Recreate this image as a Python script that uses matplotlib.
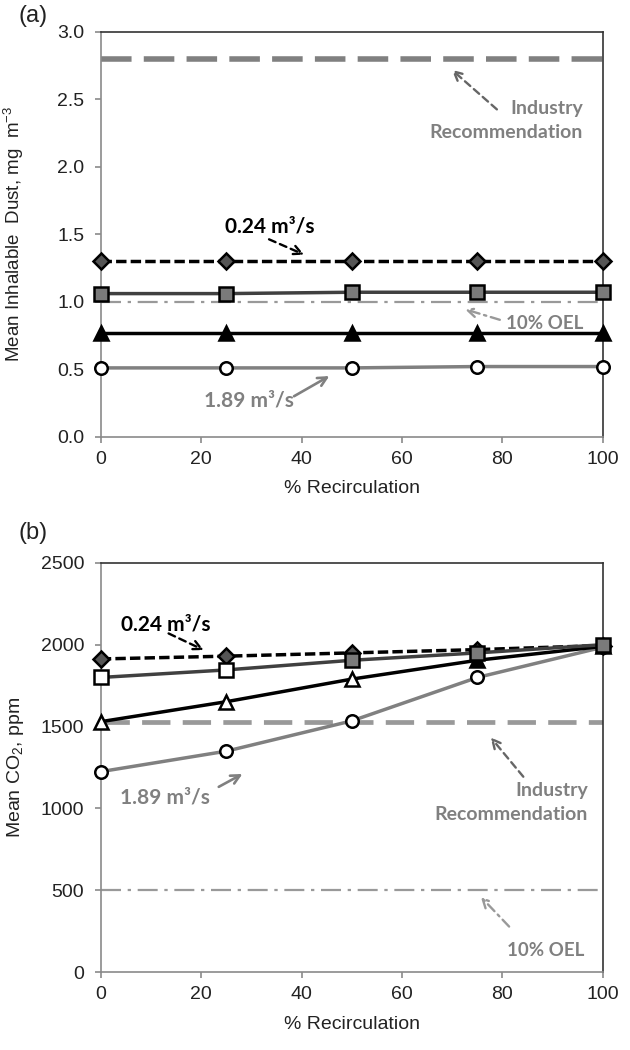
import numpy as np
import matplotlib
matplotlib.use('Agg')
import matplotlib.pyplot as plt

plt.rcParams['font.family'] = ['Liberation Sans', 'DejaVu Sans']
plt.rcParams['mathtext.fontset'] = 'custom'
plt.rcParams['mathtext.rm'] = 'Liberation Sans'
plt.rcParams['mathtext.it'] = 'Liberation Sans'

# % recirculation
recirc = [0, 25, 50, 75, 100]

# (a) mean inhalable dust, mg m-3
dust_024 = [1.30, 1.30, 1.30, 1.30, 1.30]
dust_sq = [1.06, 1.06, 1.07, 1.07, 1.07]
dust_tri = [0.77, 0.77, 0.77, 0.77, 0.77]
dust_189 = [0.51, 0.51, 0.51, 0.52, 0.52]
dust_industry = 2.8
dust_oel = 1.0

# (b) mean CO2, ppm
co2_024 = [1913, 1930, 1950, 1970, 1995]
co2_sq = [1800, 1846, 1905, 1950, 2000]
co2_tri = [1530, 1652, 1790, 1905, 1990]
co2_189 = [1225, 1350, 1535, 1800, 1985]
co2_industry = 1530
co2_oel = 500

# filled (True) / open (False) markers in (b)
co2_sq_fill = [False, False, True, True, True]
co2_tri_fill = [False, False, False, True, True]

ANN = ['Lato', 'DejaVu Sans']
GRAY = '#808080'
TXT = '#222222'

fig = plt.figure(figsize=(6.3, 10.5), dpi=100)
ax1 = fig.add_axes([0.160, 0.584, 0.797, 0.386])
ax2 = fig.add_axes([0.160, 0.074, 0.797, 0.390])


def style_axes(ax):
    ax.set_xlim(0, 100)
    ax.set_xticks(range(0, 101, 20))
    for s in ['left', 'bottom']:
        ax.spines[s].set_color('#8a8a8a')
        ax.spines[s].set_linewidth(1.2)
    for s in ['top', 'right']:
        ax.spines[s].set_color('#333333')
        ax.spines[s].set_linewidth(1.2)
    ax.tick_params(axis='both', direction='out', color='#8a8a8a', length=4,
                   width=1.2, labelsize=14, labelcolor=TXT)
    ax.tick_params(axis='y', pad=8)
    ax.tick_params(axis='x', pad=6)
    ax.set_xlabel('% Recirculation', fontsize=14, color=TXT, labelpad=9)
    ax.yaxis.set_label_coords(-0.148, 0.5)


def series(ax, y, ls, lc, marker, face, ms, zo):
    ax.plot(recirc, y, ls=ls, color=lc, lw=2.5, zorder=zo, clip_on=False)
    if isinstance(face, str):
        face = [face] * len(y)
    for xi, yi, fc in zip(recirc, y, face):
        ax.plot(xi, yi, marker=marker, ms=ms, mfc=fc, mec='black', mew=1.8,
                ls='none', zorder=zo + 0.5, clip_on=False)


def label(ax, x, y, s, color, size=14, ha='center'):
    ax.text(x, y, s, ha=ha, va='center', fontsize=size, fontweight='bold',
            color=color, family=ANN)


def arrow(ax, head, tail, color, ls='-', lw=1.7):
    ax.annotate('', xy=head, xytext=tail,
                arrowprops=dict(arrowstyle='->', color=color, lw=lw,
                                linestyle=ls, mutation_scale=16))


# ---------- (a) ----------
style_axes(ax1)
ax1.set_ylim(0, 3.0)
ax1.set_yticks(np.arange(0, 3.01, 0.5))
ax1.set_yticklabels([f'{v:.1f}' for v in np.arange(0, 3.01, 0.5)])
ax1.set_ylabel('Mean Inhalable  Dust, mg  m$^{-3}$', fontsize=13.5, color=TXT)

ax1.axhline(dust_industry, color=GRAY, lw=4, dashes=(5.5, 2.2), zorder=2)
ax1.axhline(dust_oel, color='#999999', lw=1.6, dashes=(9, 3, 1.5, 3), zorder=2)
series(ax1, dust_024, (0, (3, 1.2)), 'black', 'D', '#555555', 8.5, 5)
series(ax1, dust_sq, '-', '#404040', 's', '#7a7a7a', 10, 4)
series(ax1, dust_tri, '-', 'black', '^', 'black', 10, 3)
series(ax1, dust_189, '-', GRAY, 'o', 'white', 9, 3)

label(ax1, 96, 2.43, 'Industry', GRAY, ha='right')
label(ax1, 96, 2.25, 'Recommendation', GRAY, ha='right')
arrow(ax1, (69.5, 2.73), (79.3, 2.41), '#666666', ls=(0, (3, 2)))

label(ax1, 33.7, 1.56, '0.24 m³/s', 'black', size=15)
arrow(ax1, (41, 1.34), (33, 1.47), 'black', ls=(0, (3, 2)))

label(ax1, 88.5, 0.84, '10% OEL', GRAY, size=13.5)
arrow(ax1, (72, 0.95), (80, 0.86), '#999999', ls=(0, (4, 2, 1, 2)))

label(ax1, 29.5, 0.27, '1.89 m³/s', GRAY, size=15)
arrow(ax1, (46, 0.46), (38, 0.29), GRAY, lw=1.9)

fig.text(0.030, 0.985, '(a)', fontsize=17, ha='left', va='center', color=TXT)

# ---------- (b) ----------
style_axes(ax2)
ax2.set_ylim(0, 2500)
ax2.set_yticks(range(0, 2501, 500))
ax2.set_ylabel('Mean CO$_2$, ppm', fontsize=14, color=TXT)

ax2.axhline(co2_industry, color='#999999', lw=3.4, dashes=(6, 2.6), zorder=2)
ax2.axhline(co2_oel, color='#999999', lw=1.6, dashes=(9, 3, 1.5, 3), zorder=2)
series(ax2, co2_024, (0, (3, 1.2)), 'black', 'D', '#555555', 8.5, 3)
series(ax2, co2_sq, '-', '#404040', 's',
       ['#7a7a7a' if f else 'white' for f in co2_sq_fill], 10, 5)
series(ax2, co2_tri, '-', 'black', '^',
       ['black' if f else 'white' for f in co2_tri_fill], 10, 4)
series(ax2, co2_189, '-', GRAY, 'o', 'white', 9, 3)

label(ax2, 13, 2126, '0.24 m³/s', 'black', size=15)
arrow(ax2, (21, 1960), (13, 2076), 'black', ls=(0, (3, 2)))

label(ax2, 12.7, 1067, '1.89 m³/s', GRAY, size=15)
arrow(ax2, (28.7, 1219), (23, 1124), GRAY, lw=1.9)

label(ax2, 97, 1108, 'Industry', GRAY, ha='right')
label(ax2, 97, 962, 'Recommendation', GRAY, ha='right')
arrow(ax2, (77.3, 1447), (84.5, 1181), '#666666', ls=(0, (3, 2)))

label(ax2, 88.6, 134, '10% OEL', GRAY, size=13.5)
arrow(ax2, (75.3, 473), (81.7, 267), '#999999', ls=(0, (4, 2, 1, 2)))

fig.text(0.030, 0.492, '(b)', fontsize=17, ha='left', va='center', color=TXT)

fig.savefig('out.png', dpi=100, facecolor='white')
